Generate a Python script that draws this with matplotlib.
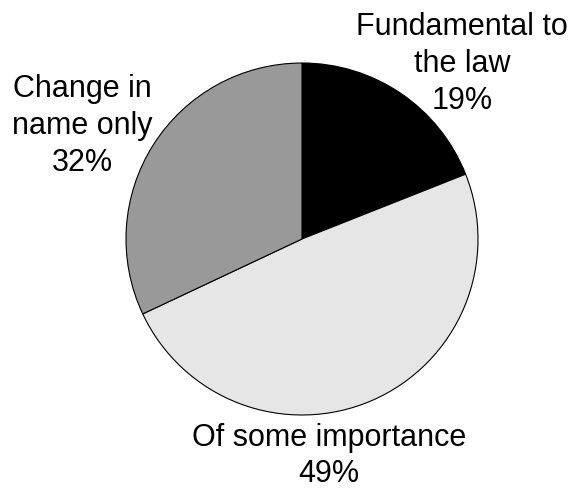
import matplotlib.pyplot as plt

categories = ["Fundamental to\nthe law", "Of some importance", "Change in\nname only"]
shares = [19, 49, 32]
colors = ["#000000", "#e6e6e6", "#999999"]

# label anchor points in pixel coords (x, y from top)
label_pos = [(462, 64), (329, 456), (82, 126)]

W, H = 570, 489
fig = plt.figure(figsize=(W / 100, H / 100), dpi=100)
ax = fig.add_axes([0, 0, 1, 1])

ax.pie(shares, colors=colors, startangle=90, counterclock=False,
       center=(302, H - 240), radius=176,
       wedgeprops=dict(edgecolor="black", linewidth=0.8))
ax.set_xlim(0, W)
ax.set_ylim(0, H)
ax.set_aspect("equal")
ax.axis("off")

for name, val, (x, y) in zip(categories, shares, label_pos):
    ax.text(x, H - y, f"{name}\n{val}%", ha="center", va="center",
            fontsize=22, family="Liberation Sans", linespacing=1.3)

fig.savefig("out.png", dpi=100, facecolor="white")
